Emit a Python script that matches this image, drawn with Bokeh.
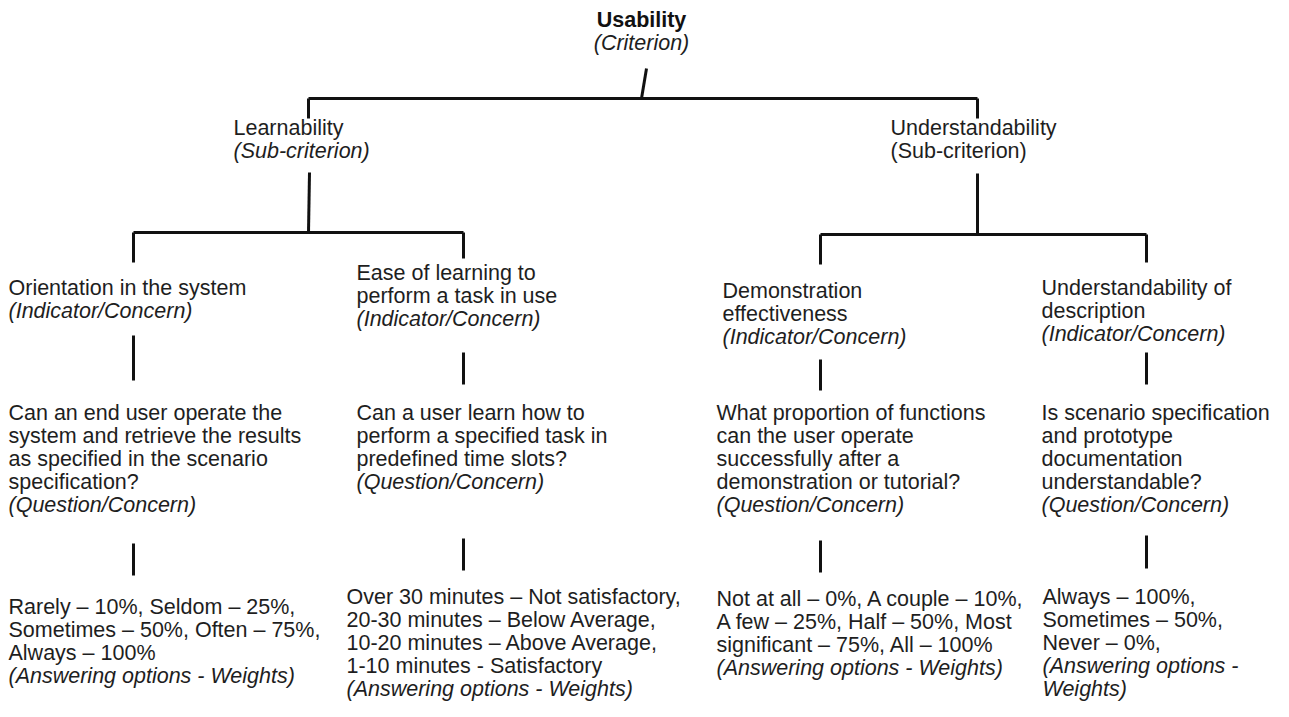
from bokeh.plotting import figure
from bokeh.models import Range1d, ColumnDataSource
from bokeh.embed import file_html
from bokeh.resources import INLINE
from bokeh.core.properties import value

# ---------------- data (texts of the tree) ----------------
criterion = ["Usability", "(Criterion)"]
criterion_styles = ["bold", "italic"]

sub_criteria = [
    ["Learnability", "(Sub-criterion)"],
    ["Understandability", "(Sub-criterion)"],
]
sub_criteria_styles = [["normal", "italic"], ["normal", "normal"]]

indicators = [
    ["Orientation in the system", "(Indicator/Concern)"],
    ["Ease of learning to", "perform a task in use", "(Indicator/Concern)"],
    ["Demonstration", "effectiveness", "(Indicator/Concern)"],
    ["Understandability of", "description", "(Indicator/Concern)"],
]
questions = [
    ["Can an end user operate the", "system and retrieve the results",
     "as specified in the scenario", "specification?", "(Question/Concern)"],
    ["Can a user learn how to", "perform a specified task in",
     "predefined time slots?", "(Question/Concern)"],
    ["What proportion of functions", "can the user operate",
     "successfully after a", "demonstration or tutorial?", "(Question/Concern)"],
    ["Is scenario specification", "and prototype", "documentation",
     "understandable?", "(Question/Concern)"],
]
answers = [
    ["Rarely \u2013 10%, Seldom \u2013 25%,", "Sometimes \u2013 50%, Often \u2013 75%,",
     "Always \u2013 100%", "(Answering options - Weights)"],
    ["Over 30 minutes \u2013 Not satisfactory,", "20-30 minutes \u2013 Below Average,",
     "10-20 minutes \u2013 Above Average,", "1-10 minutes - Satisfactory",
     "(Answering options - Weights)"],
    ["Not at all \u2013 0%, A couple \u2013 10%,", "A few \u2013 25%, Half \u2013 50%, Most",
     "significant \u2013 75%, All \u2013 100%", "(Answering options - Weights)"],
    ["Always \u2013 100%,", "Sometimes \u2013 50%,", "Never \u2013 0%,",
     "(Answering options -", "Weights)"],
]
answers_italic_from = [3, 4, 3, 3]

# ---------------- layout (pixel positions) ----------------
LH = 23
FONT = "Liberation Sans"
FS = "21.5px"
root_pos = (641, 19)
sub_pos = [(233, 127), (890, 127)]
ind_pos = [(8, 287), (356, 272), (722, 290), (1041, 287)]
q_pos = [(8, 412), (356, 412), (716, 412), (1041, 412)]
a_pos = [(8, 606), (346, 596), (716, 598), (1042, 596)]
branch_x = [133, 463, 820, 1146]
sub_x = [308, 977]

xs, ys, ts, st = [], [], [], []

def add(lines, styles, pos):
    x0, y0 = pos
    for i, (t, s) in enumerate(zip(lines, styles)):
        xs.append(x0); ys.append(y0 + i * LH); ts.append(t); st.append(s)

for k in range(2):
    add(sub_criteria[k], sub_criteria_styles[k], sub_pos[k])
for k in range(4):
    ind = indicators[k]
    add(ind, ["normal"] * (len(ind) - 1) + ["italic"], ind_pos[k])
    q = questions[k]
    add(q, ["normal"] * (len(q) - 1) + ["italic"], q_pos[k])
    a = answers[k]
    f = answers_italic_from[k]
    add(a, ["normal" if i < f else "italic" for i in range(len(a))], a_pos[k])

p = figure(width=1273, height=701, output_backend="svg", toolbar_location=None,
           x_range=Range1d(0, 1273), y_range=Range1d(701, 0),
           min_border=0, outline_line_color=None)
p.axis.visible = False
p.grid.visible = False
p.background_fill_color = "white"

for style in ["normal", "italic"]:
    idx = [i for i in range(len(ts)) if st[i] == style]
    src = ColumnDataSource(dict(x=[xs[i] for i in idx], y=[ys[i] for i in idx],
                                t=[ts[i] for i in idx]))
    p.text(x="x", y="y", text="t", source=src, text_font=value(FONT),
           text_font_size=FS, text_font_style=style, text_color="#1e1e1e",
           text_align="left", text_baseline="middle")

# root texts (centered)
rx, ry = root_pos
p.text(x=[rx], y=[ry], text=[criterion[0]], text_font=value(FONT), text_font_size=FS,
       text_font_style=criterion_styles[0], text_color="#111111",
       text_align="center", text_baseline="middle")
p.text(x=[rx], y=[ry + LH], text=[criterion[1]], text_font=value(FONT), text_font_size=FS,
       text_font_style=criterion_styles[1], text_color="#1e1e1e",
       text_align="center", text_baseline="middle")

# connectors
x0s, y0s, x1s, y1s = [], [], [], []
def seg(a, b, c, d):
    x0s.append(a); y0s.append(b); x1s.append(c); y1s.append(d)

# root stem and top bar
seg(rx + 5, 68, rx, 98)
seg(sub_x[0], 98, sub_x[1], 98)
for sx in sub_x:
    seg(sx, 98, sx, 118)
# sub-criterion stems and bars
seg(sub_x[0] + 1, 172, sub_x[0], 232)
seg(sub_x[1], 173, sub_x[1], 234)
seg(branch_x[0], 232, branch_x[1], 232)
seg(branch_x[2], 234, branch_x[3], 234)
drop_end = [262, 258, 264, 262]
bar_y = [232, 232, 234, 234]
for k in range(4):
    seg(branch_x[k], bar_y[k], branch_x[k], drop_end[k])
# indicator -> question stems
stem1 = [(335, 380), (352, 384), (359, 390), (352, 384)]
for k in range(4):
    seg(branch_x[k], stem1[k][0], branch_x[k], stem1[k][1])
# question -> answer stems
stem2 = [(543, 575), (538, 570), (540, 572), (535, 568)]
for k in range(4):
    seg(branch_x[k], stem2[k][0], branch_x[k], stem2[k][1])

p.segment(x0=x0s, y0=y0s, x1=x1s, y1=y1s, line_color="#111111", line_width=3)

open("out.html", "w").write(file_html(p, INLINE))
